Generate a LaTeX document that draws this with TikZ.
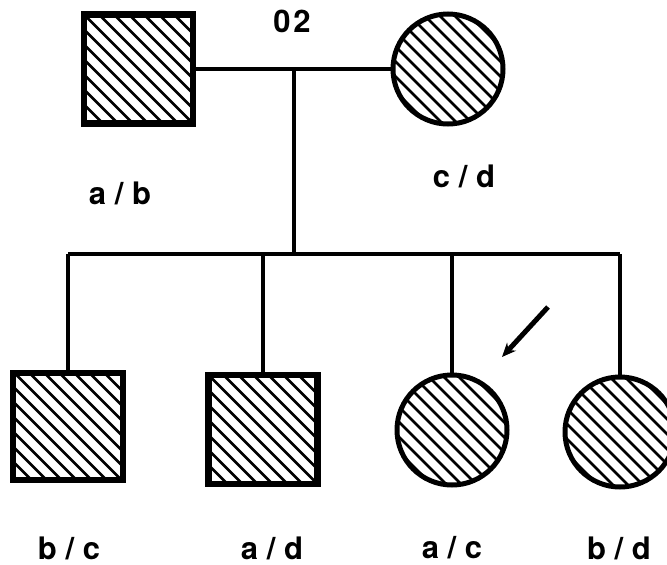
\documentclass[tikz,border=0pt]{standalone}
\usepackage{fontspec}
\setmainfont{TeX Gyre Heros}
\usetikzlibrary{arrows.meta}
\tikzset{
  hatch/.style={path picture={
    \foreach \i in {-9,...,9}
      \draw[line width=2.5pt]
        ([shift={(\i*15-80,-80)}]path picture bounding box.center) --
        ([shift={(\i*15+80,80)}]path picture bounding box.center);}},
  male/.style={draw,line width=6.5pt,rectangle,minimum width=109pt,minimum height=109pt,inner sep=0pt,hatch},
  female/.style={draw,line width=5pt,circle,minimum size=110pt,inner sep=0pt,hatch},
  lbl/.style={font=\bfseries\fontsize{31}{33}\selectfont,inner sep=0pt},
  link/.style={line width=4.5pt},
  sib/.style={line width=3.8pt},
}
\begin{document}
\begin{tikzpicture}[x=1pt,y=-1pt]
\useasboundingbox (0,0) rectangle (667,565);
\node[male] (father) at (138.5,69) {};
\node[female] (mother) at (448,69) {};
\node[lbl] (t02) at (292,21) {0\kern3pt2};
\node[lbl] (lab) at (120,193) {a / b};
\node[lbl] (lcd) at (464,176) {c / d};
\draw[link] (father.east) -- (mother.west);
\coordinate (m) at (294,69);
\coordinate (s) at (294,254);
\draw[link] (m) -- (s);
\node[male,minimum width=110pt,minimum height=107pt] (c1) at (68,426.5) {};
\node[male] (c2) at (263,429.5) {};
\node[female] (c3) at (452,430) {};
\node[female] (c4) at (620,432) {};
\draw[link] (c1.north |- s) -- (c4.north |- s);
\foreach \c in {c1,c2,c3,c4} \draw[sib] (\c.north) -- (\c.north |- s);
\coordinate (a1) at (548,307);
\coordinate (a2) at (502,357);
\draw[line width=5pt,-{Stealth[length=14pt,width=12pt]}] (a1) -- (a2);
\node[lbl] (lbc) at (69,548) {b / c};
\node[lbl] (lad) at (272,548) {a / d};
\node[lbl] (lac) at (452,548) {a / c};
\node[lbl] (lbd) at (619,548) {b / d};
\end{tikzpicture}
\end{document}
